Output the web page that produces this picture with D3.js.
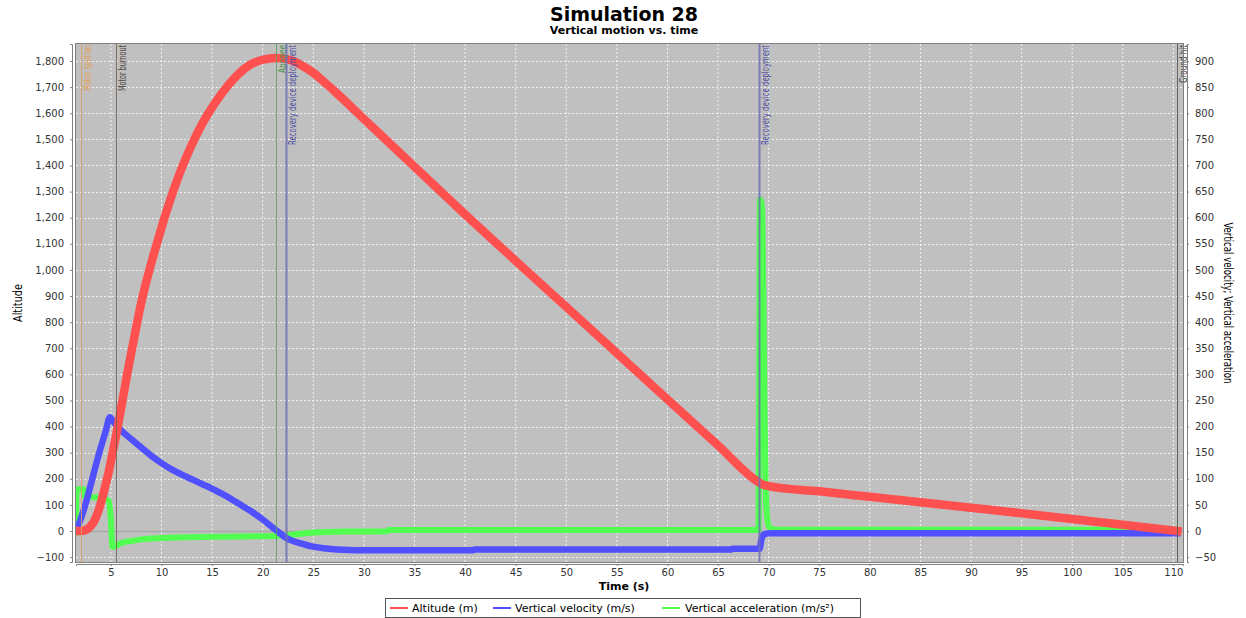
<!DOCTYPE html>
<html>
<head>
<meta charset="utf-8">
<script src="https://cdn.jsdelivr.net/npm/d3@7"></script>
<style>
  body { margin: 0; background: #fff; }
  text { font-family: "DejaVu Sans", sans-serif; }
</style>
</head>
<body>
<script>
// altitude (m) vs time (s)
const altitude = [
  [1.55, 0], [2.0, 0], [2.5, 4], [3.0, 18], [3.5, 50], [3.9, 93], [4.3, 150], [4.75, 221],
  [5.15, 295], [5.55, 374], [6.1, 490], [6.7, 620], [7.4, 760], [8.0, 875], [8.7, 985],
  [9.5, 1095], [10.5, 1225], [11.8, 1370], [13.0, 1480], [14.1, 1565], [15.3, 1640],
  [16.4, 1698], [17.6, 1750], [18.7, 1784], [19.8, 1803], [20.7, 1810], [21.3, 1812],
  [22.0, 1810], [23.0, 1800], [24.0, 1780], [25.0, 1755], [26.0, 1722], [27.0, 1688],
  [28.0, 1652], [29.0, 1615], [30.0, 1578], [32.0, 1505], [35.0, 1395], [40.0, 1213],
  [45.0, 1035], [50.0, 858], [55.0, 681], [60.0, 504], [65.0, 328], [69.1, 185],
  [69.5, 177], [70.0, 172], [75.0, 152], [80.0, 131], [85.0, 110], [90.0, 89],
  [95.0, 68], [100.0, 46], [105.0, 24], [110.4, 0]
];

// vertical velocity (m/s)
const velocity = [
  [1.55, 0], [2.0, 22], [2.5, 52], [3.0, 88], [3.5, 125], [4.0, 160], [4.5, 192], [4.9, 218],
  [5.2, 210], [5.6, 201], [6.0, 193], [7.0, 176], [8.0, 160], [9.0, 144], [10.0, 130],
  [11.0, 118], [12.0, 108], [13.0, 99], [14.0, 90], [15.0, 81], [16.0, 71], [17.0, 60],
  [18.0, 48], [19.0, 36], [20.0, 22], [21.3, 2], [22.4, -14], [23.0, -19], [24.0, -25],
  [25.0, -30], [26.0, -33], [27.0, -35], [28.0, -36], [30.0, -37], [40.8, -37],
  [40.9, -35.5], [66.3, -35.5], [66.4, -34], [69.1, -34], [69.3, -15], [69.5, -7],
  [69.8, -5], [70.2, -4.5], [110.4, -4.5]
];

// vertical acceleration (m/s²)
const acceleration = [
  [1.55, -3], [1.6, 80], [2.3, 80], [2.4, 66], [3.0, 65], [4.2, 62], [4.8, 58], [5.0, 20],
  [5.15, -30], [5.5, -28], [6.0, -23], [7.0, -19], [8.0, -16], [10.0, -13.5], [15.0, -11],
  [21.3, -9.6], [22.5, -7.7], [25.0, -3], [28.0, -1], [32.3, -0.5], [32.4, 2], [69.0, 2],
  [69.15, 635], [69.35, 620], [69.5, 400], [69.65, 150], [69.8, 40], [70.0, 10], [70.3, 4],
  [71.0, 2.5], [110.4, 2.5]
];

const events = [
  { t: 2.04, label: "Motor ignition", line: "#dca064", text: "#e0a050", len: 46 },
  { t: 5.53, label: "Motor burnout", line: "#6e6057", text: "#50463f", len: 46 },
  { t: 21.3, label: "Apogee", line: "#5f9f5f", text: "#4a8f4a", len: 28 },
  { t: 22.35, label: "Recovery device deployment", line: "#7070b4", text: "#4a4aa0", len: 100, w: 2 },
  { t: 69.05, label: "Recovery device deployment", line: "#7070b4", text: "#4a4aa0", len: 100, w: 2 },
  { t: 110.4, label: "Ground hit", line: "#555555", text: "#404040", len: 38 }
];

const xTicks = d3.range(5, 111, 5);
const leftTicks = d3.range(-100, 1801, 100);
const rightTicks = d3.range(-50, 901, 50);

const m = { left: 76, right: 1183, top: 44, bottom: 562 };

const svg = d3.select("body").append("svg")
  .attr("width", 1246)
  .attr("height", 618);

const x = d3.scaleLinear().domain([1.55, 110.95]).range([m.left, m.right]);
const yL = d3.scaleLinear().domain([-118.7, 1865.2]).range([m.bottom, m.top]);
const yR = d3.scaleLinear().domain([-59.35, 932.6]).range([m.bottom, m.top]);

// titles
svg.append("text").attr("x", 624).attr("y", 21).attr("text-anchor", "middle")
  .style("font-size", "19px").style("font-weight", "bold").text("Simulation 28");
svg.append("text").attr("x", 624).attr("y", 34).attr("text-anchor", "middle")
  .style("font-size", "11px").style("font-weight", "bold").text("Vertical motion vs. time");

// plot background
svg.append("rect")
  .attr("x", m.left).attr("y", m.top)
  .attr("width", m.right - m.left).attr("height", m.bottom - m.top)
  .attr("fill", "#c0c0c0");

// grid
let grid = svg.append("g");
grid.selectAll(".gx").data(xTicks).enter().append("line")
  .attr("x1", d => x(d)).attr("x2", d => x(d))
  .attr("y1", m.top).attr("y2", m.bottom)
  .attr("stroke", "#fff").attr("stroke-width", 0.8).attr("stroke-dasharray", "2,2");
grid.selectAll(".gy").data(leftTicks).enter().append("line")
  .attr("x1", m.left).attr("x2", m.right)
  .attr("y1", d => Math.round(yL(d)) + 0.5).attr("y2", d => Math.round(yL(d)) + 0.5)
  .attr("stroke", d => d === 0 ? "#a8a8a8" : "#fff")
  .attr("stroke-width", d => d === 0 ? 1.5 : 0.8)
  .attr("stroke-dasharray", d => d === 0 ? null : "2,2");

// series
svg.append("clipPath").attr("id", "clip").append("rect")
  .attr("x", m.left).attr("y", m.top)
  .attr("width", m.right - m.left).attr("height", m.bottom - m.top);

let series = svg.append("g").attr("clip-path", "url(#clip)");
const lineL = d3.line().curve(d3.curveMonotoneX).x(d => x(d[0])).y(d => yL(d[1]));
const lineR = d3.line().curve(d3.curveMonotoneX).x(d => x(d[0])).y(d => yR(d[1]));

series.append("path").datum(acceleration).attr("d", lineR)
  .attr("fill", "none").attr("stroke", "#50ff50").attr("stroke-width", 6)
  .attr("stroke-linejoin", "bevel").attr("stroke-linecap", "square");
series.append("path").datum(velocity).attr("d", lineR)
  .attr("fill", "none").attr("stroke", "#5050ff").attr("stroke-width", 6.5)
  .attr("stroke-linejoin", "round").attr("stroke-linecap", "square");
series.append("path").datum(altitude).attr("d", lineL)
  .attr("fill", "none").attr("stroke", "#ff5050").attr("stroke-width", 8.5)
  .attr("stroke-linejoin", "round").attr("stroke-linecap", "square");

// event markers
let marks = svg.append("g");
events.forEach(e => {
  let px = Math.round(x(e.t)) + 0.5;
  marks.append("line")
    .attr("x1", px).attr("x2", px).attr("y1", m.top).attr("y2", m.bottom)
    .attr("stroke", e.line).attr("stroke-width", e.w || 1).attr("opacity", 0.85);
  marks.append("text")
    .attr("transform", `translate(${px + 9.5},${m.top + 1}) rotate(-90)`)
    .attr("text-anchor", "end")
    .attr("fill", e.text)
    .attr("textLength", e.len).attr("lengthAdjust", "spacingAndGlyphs")
    .style("font-family", "'DejaVu Sans Condensed', sans-serif")
    .style("font-size", "11px")
    .text(e.label);
});

// plot outline
svg.append("rect")
  .attr("x", m.left - 0.5).attr("y", m.top - 0.5)
  .attr("width", m.right - m.left + 1).attr("height", m.bottom - m.top + 1)
  .attr("fill", "none").attr("stroke", "#808080");

// axes
let xAxis = svg.append("g").attr("transform", `translate(0,${m.bottom + 2})`)
  .call(d3.axisBottom(x).tickValues(xTicks).tickSize(2).tickPadding(3));
let leftAxis = svg.append("g").attr("transform", `translate(${m.left - 4},0)`)
  .call(d3.axisLeft(yL).tickValues(leftTicks).tickSize(2).tickPadding(6).tickFormat(d3.format(",")));
let rightAxis = svg.append("g").attr("transform", `translate(${m.right + 4},0)`)
  .call(d3.axisRight(yR).tickValues(rightTicks).tickSize(2).tickPadding(6));

[xAxis, leftAxis, rightAxis].forEach(a => {
  a.select(".domain").attr("stroke", "#808080");
  a.selectAll(".tick line").attr("stroke", "#808080");
  a.selectAll(".tick text").attr("fill", "#333").style("font-size", "10px")
    .style("font-family", "'DejaVu Sans', sans-serif");
});

// axis titles
svg.append("text").attr("x", 624).attr("y", 590).attr("text-anchor", "middle")
  .style("font-size", "11px").style("font-weight", "bold").text("Time (s)");
svg.append("text").attr("transform", "translate(22,303) rotate(-90)")
  .attr("text-anchor", "middle").attr("textLength", 38).attr("lengthAdjust", "spacingAndGlyphs")
  .style("font-family", "'DejaVu Sans Condensed', sans-serif").style("font-size", "12px")
  .text("Altitude");
svg.append("text").attr("transform", "translate(1224,303) rotate(90)")
  .attr("text-anchor", "middle").attr("textLength", 161).attr("lengthAdjust", "spacingAndGlyphs")
  .style("font-family", "'DejaVu Sans Condensed', sans-serif").style("font-size", "12px")
  .text("Vertical velocity; Vertical acceleration");

// legend
const legendItems = [
  { name: "Altitude (m)", color: "#ff5050", lx: 390, tx: 412 },
  { name: "Vertical velocity (m/s)", color: "#5050ff", lx: 493, tx: 515 },
  { name: "Vertical acceleration (m/s²)", color: "#50ff50", lx: 662, tx: 685 }
];
let legend = svg.append("g");
legend.append("rect").attr("x", 385.5).attr("y", 598.5).attr("width", 475).attr("height", 19)
  .attr("fill", "#fff").attr("stroke", "#555");
legendItems.forEach(d => {
  legend.append("line").attr("x1", d.lx).attr("x2", d.lx + 18).attr("y1", 608).attr("y2", 608)
    .attr("stroke", d.color).attr("stroke-width", 2);
  legend.append("text").attr("x", d.tx).attr("y", 612).style("font-size", "11px")
    .attr("fill", "#000").text(d.name);
});
</script>
</body>
</html>
